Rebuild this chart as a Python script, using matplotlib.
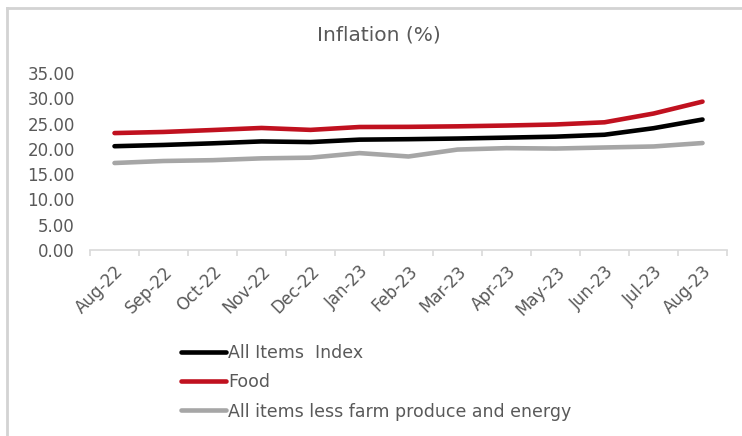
import matplotlib.pyplot as plt
from matplotlib.lines import Line2D
import numpy as np

plt.rcParams["font.family"] = ["DejaVu Sans"]

months = ["Aug-22", "Sep-22", "Oct-22", "Nov-22", "Dec-22", "Jan-23", "Feb-23",
          "Mar-23", "Apr-23", "May-23", "Jun-23", "Jul-23", "Aug-23"]
all_items = [20.52, 20.77, 21.09, 21.47, 21.34, 21.82, 21.91,
             22.04, 22.22, 22.41, 22.79, 24.08, 25.80]
food = [23.12, 23.34, 23.72, 24.13, 23.75, 24.32, 24.35,
        24.45, 24.61, 24.82, 25.25, 26.98, 29.34]
core = [17.20, 17.60, 17.76, 18.12, 18.26, 19.16, 18.49,
        19.86, 20.14, 20.06, 20.27, 20.47, 21.15]

txt = "#595959"

fig = plt.figure(figsize=(7.42, 4.36), dpi=100)
ax = fig.add_axes([0.1213, 0.4266, 0.8585, 0.406])

x = np.arange(len(months))
ax.plot(x, all_items, color="#000000", lw=3.3, solid_capstyle="round", label="All Items  Index")
ax.plot(x, food, color="#c0111f", lw=3.3, solid_capstyle="round", label="Food")
ax.plot(x, core, color="#a6a6a6", lw=3.3, solid_capstyle="round",
        label="All items less farm produce and energy")

ax.set_xlim(-0.5, len(months) - 0.5)
ax.set_ylim(0, 35)
ax.set_yticks(np.arange(0, 36, 5))
ax.set_yticklabels([f"{v:.2f}" for v in np.arange(0, 36, 5)])
ax.set_xticks(x)
ax.set_xticklabels(months, rotation=45, ha="right", rotation_mode="anchor")
ax.set_xticks(np.arange(-0.5, len(months), 1), minor=True)

for s in ["top", "right", "left"]:
    ax.spines[s].set_visible(False)
ax.spines["bottom"].set_color("#d9d9d9")
ax.spines["bottom"].set_linewidth(1.2)
ax.tick_params(axis="y", length=0, pad=11, labelsize=12, labelcolor=txt)
ax.tick_params(axis="x", which="major", length=0, pad=9, labelsize=12, labelcolor=txt)
ax.tick_params(axis="x", which="minor", length=4, color="#d9d9d9", width=1.2)

fig.text(0.51, 0.92, "Inflation (%)", ha="center", va="center", fontsize=14.5, color=txt)

handles, labels = ax.get_legend_handles_labels()
fig.legend(handles, labels, loc="upper left", bbox_to_anchor=(0.234, 0.227),
           frameon=False, fontsize=12.5, labelcolor=txt, handlelength=2.6,
           handletextpad=0.15, labelspacing=0.65, borderaxespad=0)

# outer chart frame (top and left edges)
fig.add_artist(Line2D([0.0095, 1.0], [0.981, 0.981], color="#d3d3d3", lw=2))
fig.add_artist(Line2D([0.0095, 0.0095], [0.0, 0.981], color="#d3d3d3", lw=2))

fig.savefig("out.png", dpi=100)
